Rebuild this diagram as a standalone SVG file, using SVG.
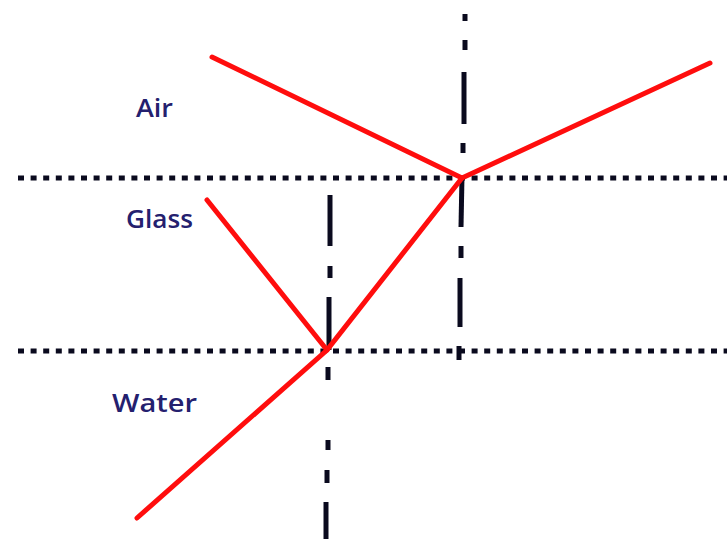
<svg xmlns="http://www.w3.org/2000/svg" width="727" height="539" viewBox="0 0 727 539">
<style>
.dot{stroke:#0a0a1e;stroke-width:5;stroke-dasharray:6 6.6;fill:none}
.dd{stroke:#0a0a1e;stroke-width:5;fill:none}
.ray{stroke:#ff0d0d;stroke-width:5;stroke-linecap:round;fill:none}
.lbl{font-family:"Open Sans","Liberation Sans",sans-serif;font-size:26px;font-weight:600;fill:#24206e}
</style>
<rect width="727" height="539" fill="#fff"/>
<g id="boundaries">
<line class="dot" x1="18" y1="178" x2="727" y2="178"/>
<line class="dot" x1="18" y1="351" x2="727" y2="351"/>
</g>
<g id="normals">
<line class="dd" x1="465" y1="14" x2="465" y2="21"/>
<line class="dd" x1="465" y1="40" x2="465" y2="50"/>
<line class="dd" x1="464" y1="72" x2="464" y2="124"/>
<line class="dd" x1="463" y1="143" x2="463" y2="153"/>
<line class="dd" x1="462" y1="176" x2="461" y2="227"/>
<line class="dd" x1="461" y1="246" x2="461" y2="258"/>
<line class="dd" x1="460" y1="278" x2="460" y2="327"/>
<line class="dd" x1="459" y1="346" x2="459" y2="360"/>
<line class="dd" x1="330" y1="195" x2="330" y2="246"/>
<line class="dd" x1="330" y1="266" x2="330" y2="278"/>
<line class="dd" x1="329" y1="297" x2="329" y2="350"/>
<line class="dd" x1="328" y1="367" x2="328" y2="380"/>
<line class="dd" x1="328" y1="440" x2="328" y2="450"/>
<line class="dd" x1="327" y1="470" x2="327" y2="483"/>
<line class="dd" x1="326" y1="502" x2="326" y2="539"/>
</g>
<g id="rays">
<polyline class="ray" points="212,57 462,178 710,63"/>
<polyline class="ray" points="462,178 327,350 137,518"/>
<line class="ray" x1="207" y1="200" x2="327" y2="350"/>
</g>
<g id="label-air"><text class="lbl" x="136" y="117" textLength="37" lengthAdjust="spacingAndGlyphs">Air</text></g>
<g id="label-glass"><text class="lbl" x="126" y="228" textLength="67" lengthAdjust="spacingAndGlyphs">Glass</text></g>
<g id="label-water"><text class="lbl" x="112" y="412" textLength="85" lengthAdjust="spacingAndGlyphs">Water</text></g>
</svg>
